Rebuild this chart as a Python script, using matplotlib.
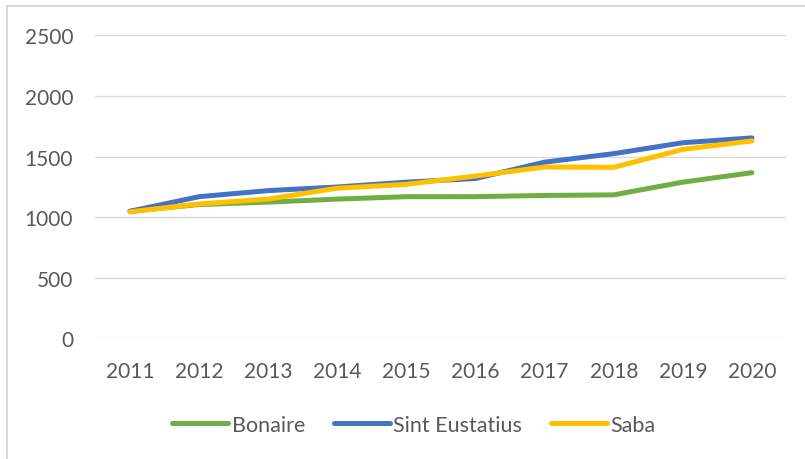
import numpy as np
import matplotlib
matplotlib.use("Agg")
import matplotlib.pyplot as plt
from matplotlib.lines import Line2D

# フォント設定
plt.rcParams['font.family'] = ['Lato', 'DejaVu Sans']

# データ
years = ["2011", "2012", "2013", "2014", "2015",
         "2016", "2017", "2018", "2019", "2020"]
bonaire = [1050, 1105, 1125, 1150, 1170, 1170, 1180, 1185, 1290, 1368]
sint_eustatius = [1050, 1170, 1220, 1250, 1290, 1320, 1455, 1525, 1615, 1655]
saba = [1045, 1110, 1150, 1240, 1272, 1340, 1415, 1412, 1560, 1630]

series_names = ["Bonaire", "Sint Eustatius", "Saba"]
colors = ["#70AD47", "#4472C4", "#FFC000"]
text_color = "#595959"

fig = plt.figure(figsize=(8.05, 4.60), dpi=100)
ax = fig.add_axes([0.1186, 0.2620, 0.8584, 0.6587])

x = np.arange(len(years))
for vals, name, c in zip([bonaire, sint_eustatius, saba], series_names, colors):
    ax.plot(x, vals, color=c, lw=3.6, solid_capstyle="round",
            solid_joinstyle="round", label=name)

ax.set_xlim(-0.5, len(years) - 0.5)
ax.set_ylim(0, 2500)
ax.set_yticks(np.arange(0, 2501, 500))
ax.set_xticks(x)
ax.set_xticklabels(years)

ax.grid(axis="y", color="#D9D9D9", lw=1.0)
ax.set_axisbelow(True)
for s in ax.spines.values():
    s.set_visible(False)
ax.tick_params(axis="both", length=0, labelsize=15, colors=text_color)
ax.tick_params(axis="y", pad=16)
ax.tick_params(axis="x", pad=16)

leg = fig.legend(loc="center", bbox_to_anchor=(414 / 805, 1 - 426 / 460), ncol=3,
                 frameon=False, fontsize=15.5, handlelength=2.6,
                 handletextpad=0.15, columnspacing=1.35)
for t in leg.get_texts():
    t.set_color(text_color)

# 外枠（左と上のみ見えている）
fig.add_artist(Line2D([7 / 805, 7 / 805], [0, 1 - 7 / 460],
                      transform=fig.transFigure, color="#D9D9D9", lw=1.5))
fig.add_artist(Line2D([7 / 805, 1], [1 - 7 / 460, 1 - 7 / 460],
                      transform=fig.transFigure, color="#D9D9D9", lw=1.5))

fig.savefig("out.png", dpi=100)
